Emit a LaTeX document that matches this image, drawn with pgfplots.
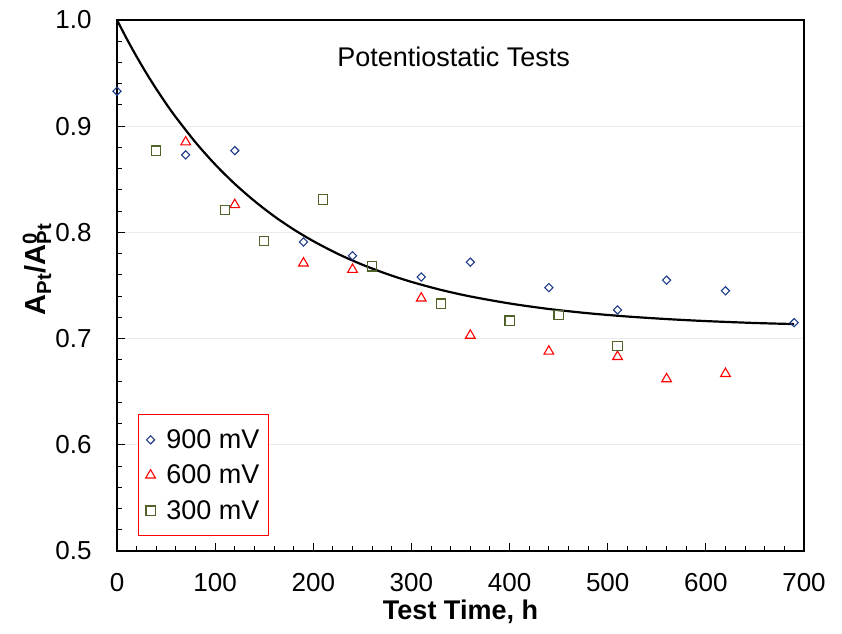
\documentclass[border=0pt]{standalone}
\usepackage{fontspec}
\setmainfont{Liberation Sans}
\usepackage{pgfplots}
\pgfplotsset{compat=1.18}
\definecolor{dblue}{HTML}{1F3C88}
\definecolor{olivec}{HTML}{4F6228}
\begin{document}
\begin{tikzpicture}
\path[use as bounding box] (-117pt,-82pt) rectangle (725pt,551pt);
\begin{axis}[
  at={(0,0)}, anchor=south west,
  scale only axis, width=687pt, height=531pt,
  xmin=0, xmax=700, ymin=0.5, ymax=1.0,
  xtick={0,100,200,300,400,500,600,700},
  ytick={0.5,0.6,0.7,0.8,0.9,1.0},
  minor x tick num=4, minor y tick num=4,
  xtick pos=bottom, ytick pos=left,
  tick align=inside, major tick length=8pt, minor tick length=5pt,
  axis line style={line width=2.6pt},
  every tick/.style={black, line width=1pt},
  ymajorgrids, major grid style={black!8, line width=0.8pt},
  /pgf/number format/assume math mode=true,
  ticklabel style={font=\fontsize{26}{30}\selectfont},
  xticklabel style={anchor=center, yshift=-32pt},
  yticklabel style={/pgf/number format/fixed, /pgf/number format/fixed zerofill, /pgf/number format/precision=1, anchor=east, xshift=-22pt},
  xlabel={\textbf{Test Time, h}},
  xlabel style={font=\fontsize{27}{31}\selectfont, at={(axis description cs:0.5,0)}, anchor=center, yshift=-61pt},
  ylabel={\textbf{A\textsubscript{Pt}/A\rlap{\textsuperscript{0}}\textsubscript{Pt}}},
  ylabel style={font=\fontsize{29}{33}\selectfont, at={(axis description cs:0,0.5)}, anchor=center, yshift=80pt, xshift=16pt},
  legend style={at={(0.031,0.028)}, anchor=south west, draw=red, line width=0.8pt,
    font=\fontsize{27}{31}\selectfont, row sep=11pt, inner xsep=7pt, inner ysep=13pt,
    /tikz/every odd column/.append style={column sep=9pt}},
  legend cell align=left,
  clip=false,
]
\addplot[only marks, mark=square, mark size=2.9pt, draw=dblue, mark options={rotate=45, line width=1.1pt, fill=none}] coordinates {
(0,0.933) (70,0.873) (120,0.877) (190,0.791) (240,0.778) (310,0.758) (360,0.772)
(440,0.748) (510,0.727) (560,0.755) (620,0.745) (690,0.715)};
\addlegendentry{900 mV}
\addplot[only marks, mark=triangle, mark size=5.6pt, draw=red, mark options={line width=1.1pt, fill=none}] coordinates {
(70,0.885) (120,0.826) (190,0.771) (240,0.765) (310,0.738) (360,0.703)
(440,0.688) (510,0.683) (560,0.662) (620,0.667)};
\addlegendentry{600 mV}
\addplot[only marks, mark=square, mark size=4.6pt, draw=olivec, mark options={line width=1.1pt, fill=none}] coordinates {
(40,0.877) (110,0.821) (150,0.792) (210,0.831) (260,0.768) (330,0.733)
(400,0.717) (450,0.722) (510,0.693)};
\addlegendentry{300 mV}
\addplot[black, line width=2.2pt, smooth, forget plot] coordinates {
(0,1.000) (10,0.9822) (20,0.9655) (30,0.9498) (40,0.9351) (50,0.9213) (60,0.9084)
(80,0.8848) (100,0.8640) (120,0.8457) (140,0.8296) (160,0.8153) (180,0.8028)
(200,0.7918) (225,0.7798) (250,0.7696) (275,0.7609) (300,0.7534) (330,0.7459)
(360,0.7397) (400,0.7331) (440,0.7279) (480,0.7239) (520,0.7208) (560,0.7184)
(600,0.7165) (650,0.7147) (690,0.7137)};
\node[font=\fontsize{27}{31}\selectfont] at (axis cs:343,0.965) {Potentiostatic Tests};
\end{axis}
\end{tikzpicture}
\end{document}
